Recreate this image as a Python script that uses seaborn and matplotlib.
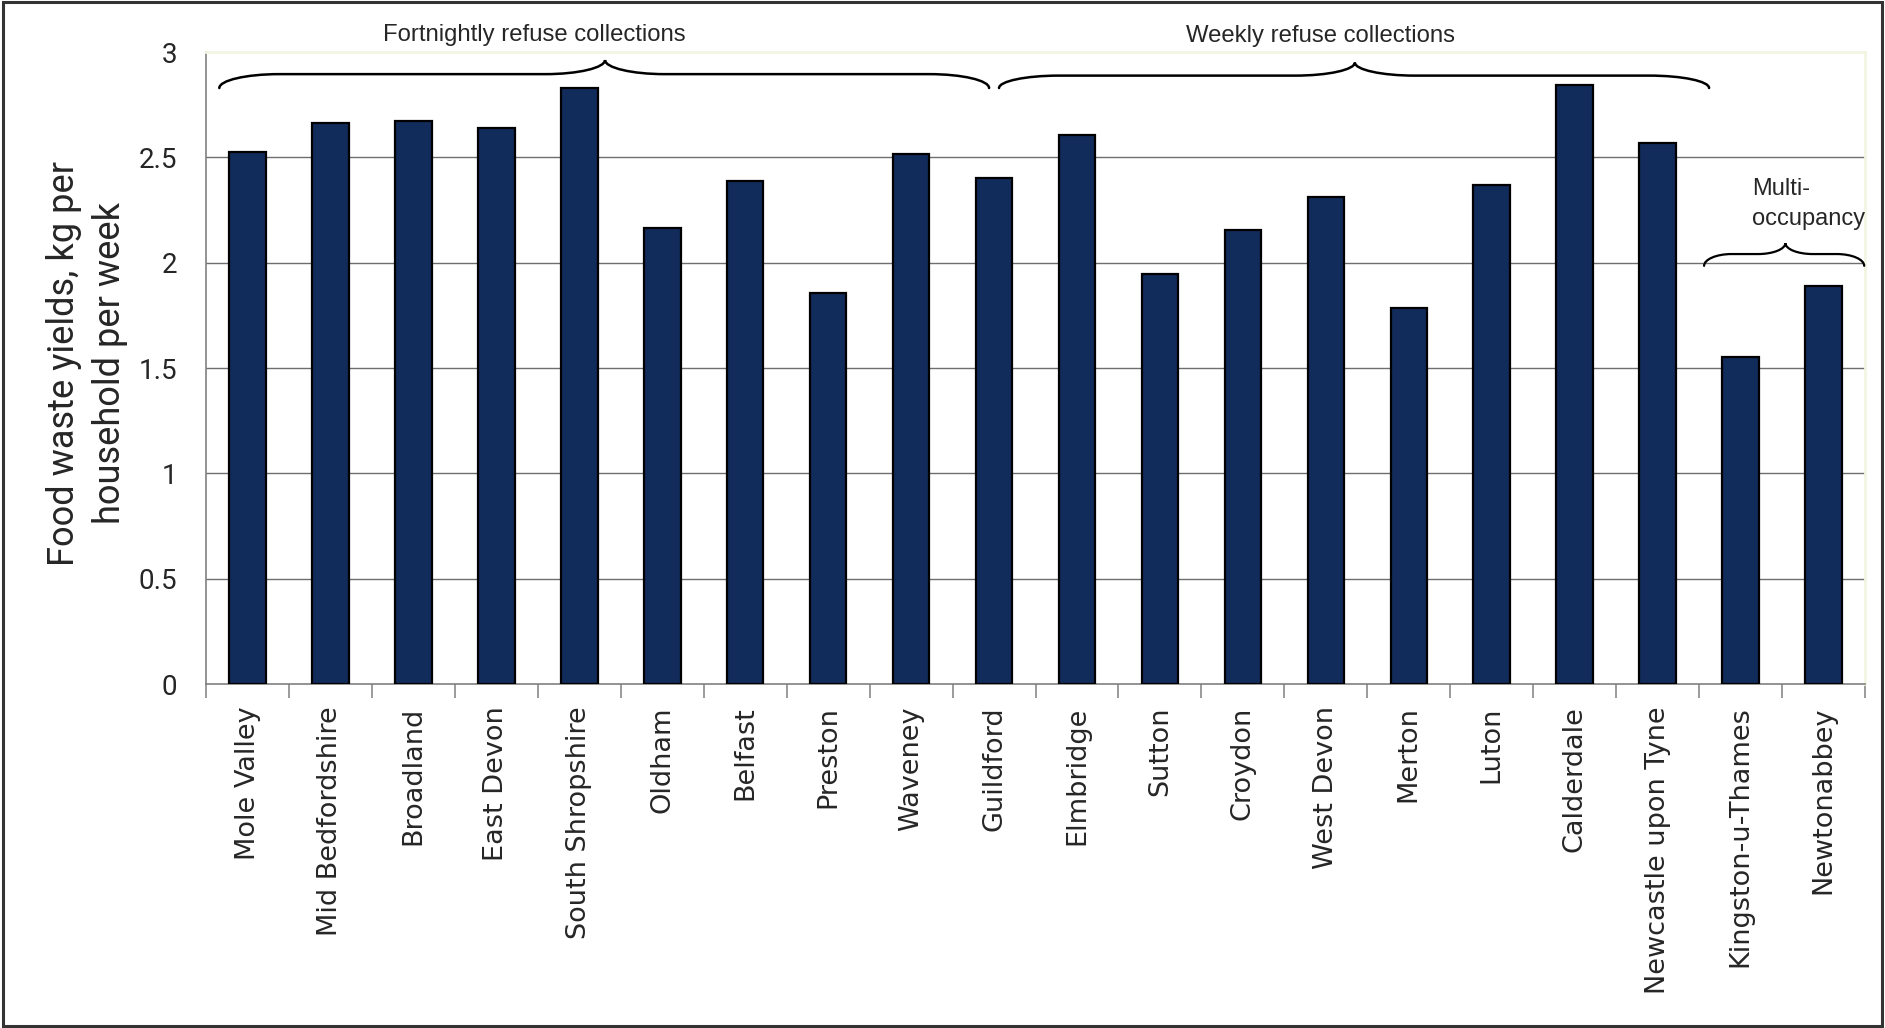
import matplotlib
matplotlib.use("Agg")
import matplotlib.pyplot as plt
from matplotlib.path import Path
from matplotlib.patches import PathPatch, Rectangle
from matplotlib.ticker import FixedLocator
import pandas as pd
import seaborn as sns

# Local authority food waste yields (kg per household per week)
authorities = [
    "Mole Valley", "Mid Bedfordshire", "Broadland", "East Devon", "South Shropshire",
    "Oldham", "Belfast", "Preston", "Waveney", "Guildford",
    "Elmbridge", "Sutton", "Croydon", "West Devon", "Merton",
    "Luton", "Calderdale", "Newcastle upon Tyne", "Kingston-u-Thames", "Newtonabbey",
]
yields = [
    2.525, 2.663, 2.672, 2.639, 2.831,
    2.163, 2.389, 1.858, 2.514, 2.402,
    2.604, 1.948, 2.154, 2.312, 1.787,
    2.367, 2.842, 2.570, 1.551, 1.891,
]
y_ticks = [0, 0.5, 1, 1.5, 2, 2.5, 3]
y_tick_labels = ["0", "0.5", "1", "1.5", "2", "2.5", "3"]
y_title_lines = ["Food waste yields, kg per", "household per week"]
group_labels = ["Fortnightly refuse collections", "Weekly refuse collections", "Multi-\noccupancy"]

df = pd.DataFrame({"authority": authorities, "yield": yields})

sns.set_theme(style="white")
plt.rcParams["font.family"] = ["Liberation Sans", "DejaVu Sans"]

fig = plt.figure(figsize=(18.85, 10.28), dpi=100)
ax = fig.add_axes([0.1093, 0.3346, 0.8801, 0.6148])

sns.barplot(data=df, x="authority", y="yield", color="#112b5b", saturation=1,
            edgecolor="black", linewidth=1.6, width=0.44, ax=ax, zorder=3)

ax.set_ylim(0, 3)
ax.set_xlim(-0.5, len(authorities) - 0.5)
ax.set_yticks(y_ticks)
ax.set_yticklabels(y_tick_labels, fontsize=20, family=["Roboto", "DejaVu Sans"])

# category labels under the bars, ticks on the category boundaries
ax.set_xticks(range(len(authorities)))
ax.set_xticklabels(authorities, rotation=90, fontsize=19.5,
                   family=["DejaVu Sans"], va="top", ha="center")
ax.xaxis.set_minor_locator(FixedLocator([i - 0.5 for i in range(len(authorities) + 1)]))
ax.tick_params(axis="x", which="major", length=0, pad=16)
ax.tick_params(axis="x", which="minor", length=10, width=1.1, color="#808080", direction="out")
ax.tick_params(axis="y", length=10, width=1.1, color="#808080", direction="out", pad=10.5)
ax.tick_params(axis="x", which="both", bottom=True)

ax.set_xlabel("")
ax.set_ylabel("")

# two-line y-axis title, each line centred on the plot height
for x_px, line in zip((63.5, 110.0), y_title_lines):
    fig.text(x_px / 1885, 1 - 363 / 1028, line, rotation=90, rotation_mode="anchor",
             ha="center", va="center", fontsize=26.1, family=["Roboto", "DejaVu Sans"])

# horizontal gridlines
for v in y_ticks[1:-1]:
    ax.axhline(v, color="#6e6e6e", lw=1.0, zorder=1)

for side in ("left", "bottom"):
    ax.spines[side].set_color("#808080")
    ax.spines[side].set_linewidth(1.2)
for side in ("top", "right"):
    ax.spines[side].set_color("#f3f5e2")
    ax.spines[side].set_linewidth(2.0)


def draw_brace(ax, x0, x1, xm, y_end, y_flat, y_tip, dx, lw=1.8):
    k = 0.55
    verts = [
        (x0, y_end),
        (x0, y_end + k * (y_flat - y_end)), (x0 + (1 - k) * dx, y_flat), (x0 + dx, y_flat),
        (xm - dx, y_flat),
        (xm - dx + k * dx, y_flat), (xm, y_tip - k * (y_tip - y_flat)), (xm, y_tip),
        (xm, y_tip - k * (y_tip - y_flat)), (xm + dx - k * dx, y_flat), (xm + dx, y_flat),
        (x1 - dx, y_flat),
        (x1 - (1 - k) * dx, y_flat), (x1, y_end + k * (y_flat - y_end)), (x1, y_end),
    ]
    codes = ([Path.MOVETO] + [Path.CURVE4] * 3 + [Path.LINETO] + [Path.CURVE4] * 6
             + [Path.LINETO] + [Path.CURVE4] * 3)
    patch = PathPatch(Path(verts, codes), facecolor="none", edgecolor="black",
                      lw=lw, clip_on=False, zorder=5, capstyle="round")
    ax.add_patch(patch)


# group braces and their captions
draw_brace(ax, -0.34, 8.94, 4.31, 2.829, 2.895, 2.962, 0.72)
draw_brace(ax, 9.06, 17.62, 13.35, 2.829, 2.888, 2.950, 0.72)
draw_brace(ax, 17.56, 19.49, 18.54, 1.985, 2.041, 2.093, 0.33, lw=1.6)

ax.text(3.46, 3.08, group_labels[0], ha="center", va="center", fontsize=17.2, clip_on=False)
ax.text(12.93, 3.075, group_labels[1], ha="center", va="center", fontsize=17.2, clip_on=False)
ax.text(18.14, 2.28, group_labels[2], ha="left", va="center", fontsize=17,
        linespacing=1.45, clip_on=False)

# outer frame
fig.patches.append(Rectangle((0.0015, 0.002), 0.997, 0.996, transform=fig.transFigure,
                             fill=False, edgecolor="#333333", lw=2.2))

fig.savefig("out.png", dpi=100, facecolor="white")
